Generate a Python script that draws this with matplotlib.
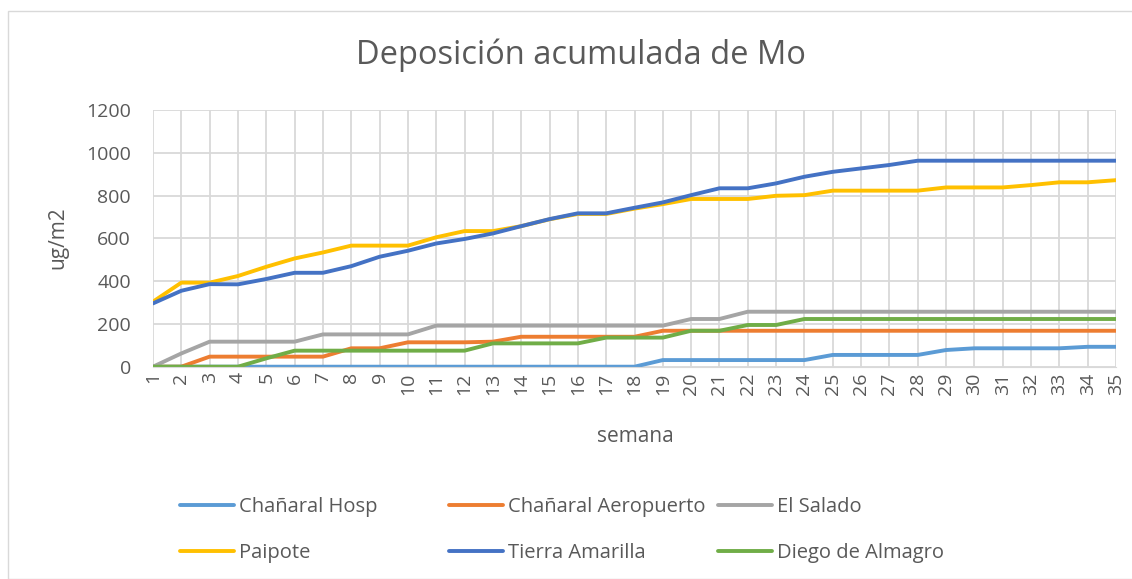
import numpy as np
import matplotlib
matplotlib.use('Agg')
import matplotlib.pyplot as plt
from matplotlib.patches import Rectangle

plt.rcParams['font.family'] = ['Open Sans', 'DejaVu Sans']

semanas = list(range(1, 36))

chanaral_hosp = [0, 0, 0, 0, 0, 0, 0, 0, 0, 0, 0, 0, 0, 0, 0, 0, 0, 0,
                 31, 31, 31, 31, 31, 31, 55, 55, 55, 55, 78, 86, 86, 86, 86, 93, 93]
chanaral_aerop = [0, 0, 47, 47, 47, 47, 47, 86, 86, 114, 114, 114, 117, 140, 140, 140, 140, 140,
                  168, 168, 168, 168, 168, 168, 168, 168, 168, 168, 168, 168, 168, 168, 168, 168, 168]
el_salado = [0, 62, 117, 117, 117, 117, 151, 151, 151, 151, 192, 192, 192, 192, 192, 192, 192, 192,
             192, 223, 223, 257, 257, 257, 257, 257, 257, 257, 257, 257, 257, 257, 257, 257, 257]
paipote = [304, 393, 393, 424, 467, 506, 534, 566, 566, 566, 605, 634, 634, 657, 689, 714, 714, 739,
           760, 784, 784, 784, 799, 802, 823, 823, 823, 823, 838, 838, 838, 849, 862, 862, 872]
tierra_amarilla = [296, 355, 386, 385, 410, 439, 439, 470, 514, 542, 576, 597, 623, 657, 690, 717, 717, 743,
                   768, 802, 834, 834, 857, 888, 911, 927, 943, 963, 963, 963, 963, 963, 963, 963, 963]
diego_almagro = [0, 0, 0, 0, 39, 75, 75, 75, 75, 75, 75, 75, 109, 109, 109, 109, 136, 136,
                 136, 168, 168, 195, 195, 223, 223, 223, 223, 223, 223, 223, 223, 223, 223, 223, 223]

series = [
    ('Chañaral Hosp', chanaral_hosp, '#5B9BD5'),
    ('Chañaral Aeropuerto', chanaral_aerop, '#ED7D31'),
    ('El Salado', el_salado, '#A5A5A5'),
    ('Paipote', paipote, '#FFC000'),
    ('Tierra Amarilla', tierra_amarilla, '#4472C4'),
    ('Diego de Almagro', diego_almagro, '#70AD47'),
]

txt = '#595959'
W, H = 1132, 579
fig = plt.figure(figsize=(W / 100, H / 100), dpi=100)
# marco exterior del grafico
fig.patches.append(Rectangle((8 / W, 0), 1.2, 1 - 11 / H, transform=fig.transFigure,
                             fill=False, edgecolor='#D9D9D9', linewidth=1))
ax = fig.add_axes([153 / W, 1 - 366.7 / H, (1116 - 153) / W, (366.7 - 110) / H])

lineas = []
for nombre, vals, col in series:
    ln, = ax.plot(semanas, vals, color=col, linewidth=2.8, label=nombre, solid_capstyle='round')
    lineas.append(ln)

ax.set_xlim(1, 35)
ax.set_ylim(0, 1200)
ax.set_yticks(np.arange(0, 1201, 200))
ax.set_xticks(semanas)
ax.set_xticklabels([str(s) for s in semanas], rotation=90)
ax.grid(True, color='#D9D9D9', linewidth=1.3)
ax.set_axisbelow(True)
for s in ['top', 'right', 'left']:
    ax.spines[s].set_visible(False)
ax.spines['bottom'].set_color('#D9D9D9')
ax.tick_params(axis='both', length=0, colors=txt, labelsize=14)
ax.tick_params(axis='y', pad=16)
ax.tick_params(axis='x', pad=4)

fig.text(581 / W, 1 - 55 / H, 'Deposición acumulada de Mo', ha='center', va='center',
         fontsize=23.5, color=txt)
fig.text(58 / W, 1 - 238 / H, 'ug/m2', rotation=90, ha='center', va='center',
         fontsize=15, color=txt)
fig.text(635 / W, 1 - 437 / H, 'semana', ha='center', va='center', fontsize=15, color=txt)

# leyenda en tres columnas de ancho fijo
for c, x0 in enumerate([180, 449, 718]):
    hs = [lineas[c], lineas[c + 3]]
    leg = fig.legend(hs, [h.get_label() for h in hs], loc='center left',
                     bbox_to_anchor=(x0 / W, 1 - 530 / H), frameon=False, fontsize=14.5,
                     handlelength=2.7, handletextpad=0.25, labelspacing=1.3,
                     borderpad=0, borderaxespad=0)
    for t in leg.get_texts():
        t.set_color(txt)

plt.savefig('out.png', dpi=100)
